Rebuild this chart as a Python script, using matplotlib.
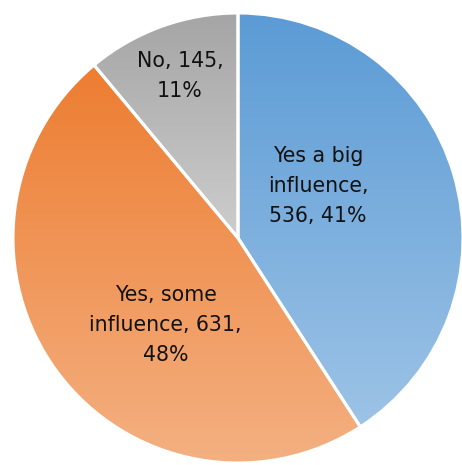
import numpy as np
import matplotlib
matplotlib.use('Agg')
import matplotlib.pyplot as plt
from matplotlib.colors import LinearSegmentedColormap

names = ['Yes a big\ninfluence,', 'Yes, some\ninfluence,', 'No,']
counts = [536, 631, 145]
top_colors = ['#5b9bd5', '#ed7d31', '#a5a5a5']
bottom_colors = ['#9dc3e6', '#f4b183', '#cdcdcd']

plt.rcParams['font.family'] = ['DejaVu Sans']

fig = plt.figure(figsize=(4.62, 4.65), dpi=100)
ax = fig.add_axes([0, 0, 1, 1])
ax.axis('off')

wedges, _ = ax.pie(counts, startangle=90, counterclock=False, radius=1,
                   colors=top_colors, wedgeprops=dict(linewidth=0))

# vertical gradient per slice, darker on top, clipped to the wedge
for w, c1, c2 in zip(wedges, top_colors, bottom_colors):
    verts = w.get_path().transformed(w.get_patch_transform()).vertices
    x0, x1 = verts[:, 0].min(), verts[:, 0].max()
    y0, y1 = verts[:, 1].min(), verts[:, 1].max()
    cmap = LinearSegmentedColormap.from_list('g', [c1, c2])
    grad = np.linspace(0, 1, 256).reshape(-1, 1)
    im = ax.imshow(grad, cmap=cmap, extent=[x0, x1, y0, y1], origin='upper',
                   aspect='auto', zorder=2, interpolation='bilinear')
    im.set_clip_path(w)

for w in wedges:
    w.set_facecolor('none')
    w.set_edgecolor('white')
    w.set_linewidth(2.2)
    w.set_zorder(3)

total = sum(counts)
pcts = [round(100 * c / total) for c in counts]
labels = [names[0] + '\n%d, %d%%' % (counts[0], pcts[0]),
          names[1] + ' %d,\n%d%%' % (counts[1], pcts[1]),
          names[2] + ' %d,\n%d%%' % (counts[2], pcts[2])]
label_pos = [(0.356, 0.231), (-0.322, -0.387), (-0.258, 0.72)]
for lab, (x, y) in zip(labels, label_pos):
    ax.text(x, y, lab, ha='center', va='center', fontsize=14.8,
            color='#111111', linespacing=1.6, zorder=4)

ax.set_aspect('equal')
ax.set_xlim(-238 / 225, 224 / 225)
ax.set_ylim(-227 / 225, 238 / 225)

fig.savefig('out.png', dpi=100)
